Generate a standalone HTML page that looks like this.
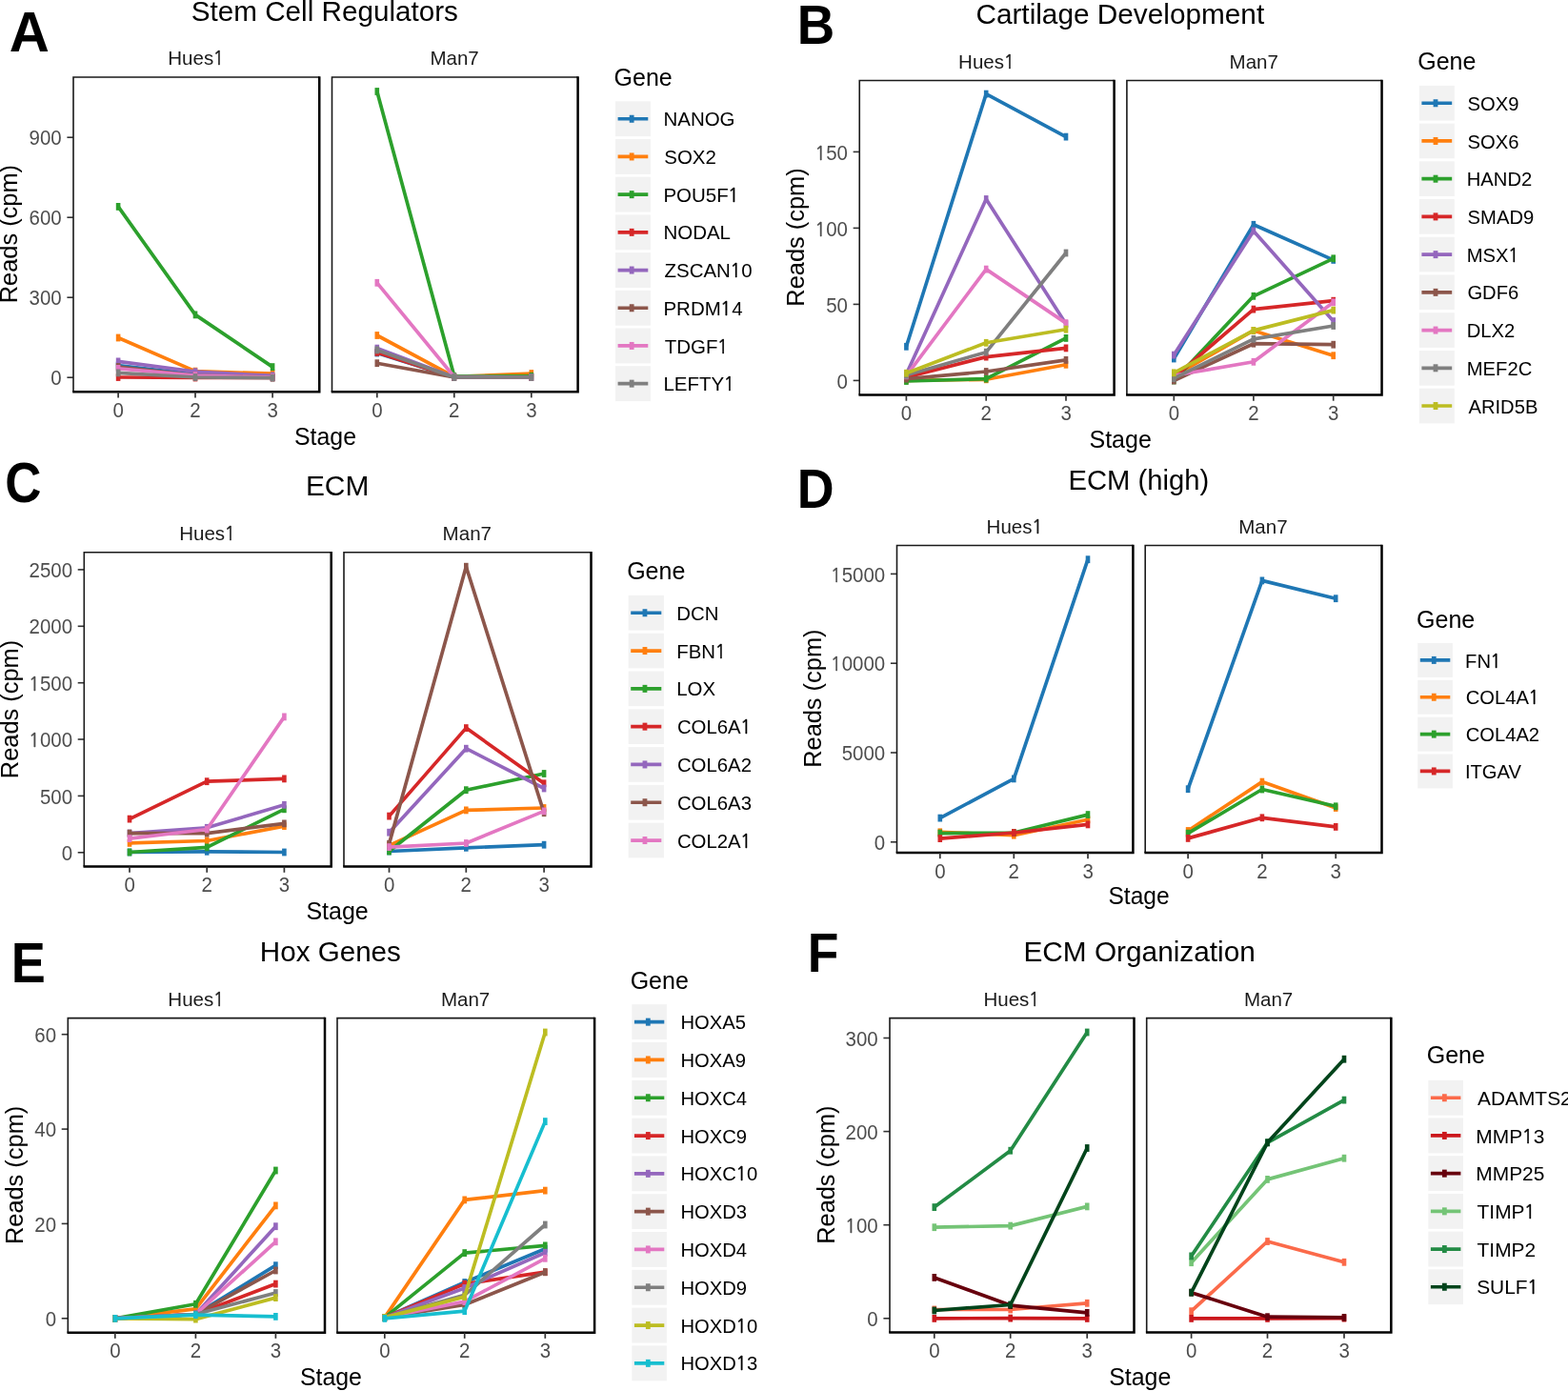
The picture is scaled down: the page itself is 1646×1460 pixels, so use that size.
<!DOCTYPE html>
<html><head><meta charset="utf-8"><title>Figure</title><style>html,body{margin:0;padding:0;background:#fff;overflow:hidden}svg{display:block}</style></head><body>
<svg width="1646" height="1460" viewBox="0 0 1646 1460" font-family="'Liberation Sans', Arial, Helvetica, sans-serif">
<rect width="1646" height="1460" fill="#fff"/>
<g id="pA">
<text x="9.79" y="53.8" font-size="58.3" fill="#000" font-weight="bold">A</text>
<text x="200.71" y="21.7" font-size="29.66" fill="#000">Stem Cell Regulators</text>
<text transform="translate(176.28,68.1) scale(0.9831,1)" font-size="20.9" fill="#1A1A1A">Hues<tspan font-family="NanumGothic" font-size="19.59" dx="-0.64" stroke="#1A1A1A" stroke-width="0.38">1</tspan></text>
<text transform="translate(451.41,68.1) scale(0.9830,1)" font-size="20.9" fill="#1A1A1A">Man7</text>
<line x1="70.4" y1="396.2" x2="77" y2="396.2" stroke="#333" stroke-width="1.6"/>
<text transform="translate(53.37,404.3) scale(0.9600,1)" font-size="21.3" fill="#4D4D4D">0</text>
<line x1="70.4" y1="312.2" x2="77" y2="312.2" stroke="#333" stroke-width="1.6"/>
<text transform="translate(30.62,320.3) scale(0.9600,1)" font-size="21.3" fill="#4D4D4D">300</text>
<line x1="70.4" y1="228.2" x2="77" y2="228.2" stroke="#333" stroke-width="1.6"/>
<text transform="translate(30.62,236.3) scale(0.9600,1)" font-size="21.3" fill="#4D4D4D">600</text>
<line x1="70.4" y1="144.2" x2="77" y2="144.2" stroke="#333" stroke-width="1.6"/>
<text transform="translate(30.62,152.3) scale(0.9600,1)" font-size="21.3" fill="#4D4D4D">900</text>
<path d="M77,411.2V81H335.25" fill="none" stroke="#1A1A1A" stroke-width="1.6"/>
<path d="M76.2,411.2H335.25V80.2" fill="none" stroke="#000" stroke-width="2.5"/>
<line x1="124.1" y1="411.2" x2="124.1" y2="417.4" stroke="#333" stroke-width="1.7"/>
<text transform="translate(118.48,437.7) scale(0.9600,1)" font-size="21.3" fill="#4D4D4D">0</text>
<line x1="205" y1="411.2" x2="205" y2="417.4" stroke="#333" stroke-width="1.7"/>
<text transform="translate(199.27,437.7) scale(0.9600,1)" font-size="21.3" fill="#4D4D4D">2</text>
<line x1="286.1" y1="411.2" x2="286.1" y2="417.4" stroke="#333" stroke-width="1.7"/>
<text transform="translate(280.48,437.7) scale(0.9600,1)" font-size="21.3" fill="#4D4D4D">3</text>
<path d="M348.5,411.2V81H606.6" fill="none" stroke="#1A1A1A" stroke-width="1.6"/>
<path d="M347.7,411.2H606.6V80.2" fill="none" stroke="#000" stroke-width="2.5"/>
<line x1="395.8" y1="411.2" x2="395.8" y2="417.4" stroke="#333" stroke-width="1.7"/>
<text transform="translate(390.18,437.7) scale(0.9600,1)" font-size="21.3" fill="#4D4D4D">0</text>
<line x1="476.8" y1="411.2" x2="476.8" y2="417.4" stroke="#333" stroke-width="1.7"/>
<text transform="translate(471.07,437.7) scale(0.9600,1)" font-size="21.3" fill="#4D4D4D">2</text>
<line x1="557.8" y1="411.2" x2="557.8" y2="417.4" stroke="#333" stroke-width="1.7"/>
<text transform="translate(552.18,437.7) scale(0.9600,1)" font-size="21.3" fill="#4D4D4D">3</text>
<polyline points="124.1,383.6 205,393 286.1,396" fill="none" stroke="#1F77B4" stroke-width="3.7" stroke-linejoin="round"/>
<rect x="121.8" y="379.7" width="4.6" height="7.8" fill="#1F77B4"/>
<rect x="202.7" y="389.1" width="4.6" height="7.8" fill="#1F77B4"/>
<rect x="283.8" y="392.1" width="4.6" height="7.8" fill="#1F77B4"/>
<polyline points="124.1,354.5 205,389.6 286.1,392.2" fill="none" stroke="#FF7F0E" stroke-width="3.7" stroke-linejoin="round"/>
<rect x="121.8" y="350.6" width="4.6" height="7.8" fill="#FF7F0E"/>
<rect x="202.7" y="385.7" width="4.6" height="7.8" fill="#FF7F0E"/>
<rect x="283.8" y="388.3" width="4.6" height="7.8" fill="#FF7F0E"/>
<polyline points="124.1,216.9 205,330.4 286.1,385.1" fill="none" stroke="#2CA02C" stroke-width="3.7" stroke-linejoin="round"/>
<rect x="121.8" y="213" width="4.6" height="7.8" fill="#2CA02C"/>
<rect x="202.7" y="326.5" width="4.6" height="7.8" fill="#2CA02C"/>
<rect x="283.8" y="381.2" width="4.6" height="7.8" fill="#2CA02C"/>
<polyline points="124.1,396 205,396.5 286.1,396.5" fill="none" stroke="#D62728" stroke-width="3.7" stroke-linejoin="round"/>
<rect x="121.8" y="392.1" width="4.6" height="7.8" fill="#D62728"/>
<rect x="202.7" y="392.6" width="4.6" height="7.8" fill="#D62728"/>
<rect x="283.8" y="392.6" width="4.6" height="7.8" fill="#D62728"/>
<polyline points="124.1,379.4 205,390.2 286.1,394.4" fill="none" stroke="#9467BD" stroke-width="3.7" stroke-linejoin="round"/>
<rect x="121.8" y="375.5" width="4.6" height="7.8" fill="#9467BD"/>
<rect x="202.7" y="386.3" width="4.6" height="7.8" fill="#9467BD"/>
<rect x="283.8" y="390.5" width="4.6" height="7.8" fill="#9467BD"/>
<polyline points="124.1,385 205,394 286.1,396" fill="none" stroke="#8C564B" stroke-width="3.7" stroke-linejoin="round"/>
<rect x="121.8" y="381.1" width="4.6" height="7.8" fill="#8C564B"/>
<rect x="202.7" y="390.1" width="4.6" height="7.8" fill="#8C564B"/>
<rect x="283.8" y="392.1" width="4.6" height="7.8" fill="#8C564B"/>
<polyline points="124.1,386.9 205,394 286.1,396" fill="none" stroke="#E377C2" stroke-width="3.7" stroke-linejoin="round"/>
<rect x="121.8" y="383" width="4.6" height="7.8" fill="#E377C2"/>
<rect x="202.7" y="390.1" width="4.6" height="7.8" fill="#E377C2"/>
<rect x="283.8" y="392.1" width="4.6" height="7.8" fill="#E377C2"/>
<polyline points="124.1,391.4 205,396 286.1,396.7" fill="none" stroke="#7F7F7F" stroke-width="3.7" stroke-linejoin="round"/>
<rect x="121.8" y="387.5" width="4.6" height="7.8" fill="#7F7F7F"/>
<rect x="202.7" y="392.1" width="4.6" height="7.8" fill="#7F7F7F"/>
<rect x="283.8" y="392.8" width="4.6" height="7.8" fill="#7F7F7F"/>
<polyline points="395.8,370.5 476.8,396 557.8,396" fill="none" stroke="#1F77B4" stroke-width="3.7" stroke-linejoin="round"/>
<rect x="393.5" y="366.6" width="4.6" height="7.8" fill="#1F77B4"/>
<rect x="474.5" y="392.1" width="4.6" height="7.8" fill="#1F77B4"/>
<rect x="555.5" y="392.1" width="4.6" height="7.8" fill="#1F77B4"/>
<polyline points="395.8,352 476.8,395.4 557.8,392" fill="none" stroke="#FF7F0E" stroke-width="3.7" stroke-linejoin="round"/>
<rect x="393.5" y="348.1" width="4.6" height="7.8" fill="#FF7F0E"/>
<rect x="474.5" y="391.5" width="4.6" height="7.8" fill="#FF7F0E"/>
<rect x="555.5" y="388.1" width="4.6" height="7.8" fill="#FF7F0E"/>
<polyline points="395.8,96 476.8,394.8 557.8,394.8" fill="none" stroke="#2CA02C" stroke-width="3.7" stroke-linejoin="round"/>
<rect x="393.5" y="92.1" width="4.6" height="7.8" fill="#2CA02C"/>
<rect x="474.5" y="390.9" width="4.6" height="7.8" fill="#2CA02C"/>
<rect x="555.5" y="390.9" width="4.6" height="7.8" fill="#2CA02C"/>
<polyline points="395.8,369.9 476.8,396 557.8,396" fill="none" stroke="#D62728" stroke-width="3.7" stroke-linejoin="round"/>
<rect x="393.5" y="366" width="4.6" height="7.8" fill="#D62728"/>
<rect x="474.5" y="392.1" width="4.6" height="7.8" fill="#D62728"/>
<rect x="555.5" y="392.1" width="4.6" height="7.8" fill="#D62728"/>
<polyline points="395.8,365.6 476.8,396 557.8,396" fill="none" stroke="#9467BD" stroke-width="3.7" stroke-linejoin="round"/>
<rect x="393.5" y="361.7" width="4.6" height="7.8" fill="#9467BD"/>
<rect x="474.5" y="392.1" width="4.6" height="7.8" fill="#9467BD"/>
<rect x="555.5" y="392.1" width="4.6" height="7.8" fill="#9467BD"/>
<polyline points="395.8,381.2 476.8,396 557.8,396" fill="none" stroke="#8C564B" stroke-width="3.7" stroke-linejoin="round"/>
<rect x="393.5" y="377.3" width="4.6" height="7.8" fill="#8C564B"/>
<rect x="474.5" y="392.1" width="4.6" height="7.8" fill="#8C564B"/>
<rect x="555.5" y="392.1" width="4.6" height="7.8" fill="#8C564B"/>
<polyline points="395.8,296.8 476.8,395.5 557.8,396" fill="none" stroke="#E377C2" stroke-width="3.7" stroke-linejoin="round"/>
<rect x="393.5" y="292.9" width="4.6" height="7.8" fill="#E377C2"/>
<rect x="474.5" y="391.6" width="4.6" height="7.8" fill="#E377C2"/>
<rect x="555.5" y="392.1" width="4.6" height="7.8" fill="#E377C2"/>
<polyline points="395.8,367.4 476.8,396 557.8,396" fill="none" stroke="#7F7F7F" stroke-width="3.7" stroke-linejoin="round"/>
<rect x="393.5" y="363.5" width="4.6" height="7.8" fill="#7F7F7F"/>
<rect x="474.5" y="392.1" width="4.6" height="7.8" fill="#7F7F7F"/>
<rect x="555.5" y="392.1" width="4.6" height="7.8" fill="#7F7F7F"/>
<text transform="translate(18.4,318.28) rotate(-90)" font-size="25.4" fill="#000">Reads (cpm)</text>
<text transform="translate(309.01,466.5) scale(0.9792,1)" font-size="25.4" fill="#000">Stage</text>
<text x="644.55" y="89.5" font-size="25" fill="#000">Gene</text>
<rect x="646" y="106.3" width="36.9" height="36.9" fill="#F2F2F2"/>
<line x1="648.6" y1="124.75" x2="680.3" y2="124.75" stroke="#1F77B4" stroke-width="3.7"/>
<rect x="660.75" y="120.75" width="4.8" height="8" fill="#1F77B4"/>
<text transform="translate(696.46,132.35) scale(0.9850,1)" font-size="20.8" fill="#000">NANOG</text>
<rect x="646" y="146" width="36.9" height="36.9" fill="#F2F2F2"/>
<line x1="648.6" y1="164.45" x2="680.3" y2="164.45" stroke="#FF7F0E" stroke-width="3.7"/>
<rect x="660.75" y="160.45" width="4.8" height="8" fill="#FF7F0E"/>
<text transform="translate(697.28,172.05) scale(0.9850,1)" font-size="20.8" fill="#000">SOX2</text>
<rect x="646" y="185.7" width="36.9" height="36.9" fill="#F2F2F2"/>
<line x1="648.6" y1="204.15" x2="680.3" y2="204.15" stroke="#2CA02C" stroke-width="3.7"/>
<rect x="660.75" y="200.15" width="4.8" height="8" fill="#2CA02C"/>
<text transform="translate(696.46,211.75) scale(0.9850,1)" font-size="20.8" fill="#000">POU5F<tspan font-family="NanumGothic" font-size="19.5" dx="-0.64" stroke="#000" stroke-width="0.37">1</tspan></text>
<rect x="646" y="225.4" width="36.9" height="36.9" fill="#F2F2F2"/>
<line x1="648.6" y1="243.85" x2="680.3" y2="243.85" stroke="#D62728" stroke-width="3.7"/>
<rect x="660.75" y="239.85" width="4.8" height="8" fill="#D62728"/>
<text transform="translate(696.46,251.45) scale(0.9850,1)" font-size="20.8" fill="#000">NODAL</text>
<rect x="646" y="265.1" width="36.9" height="36.9" fill="#F2F2F2"/>
<line x1="648.6" y1="283.55" x2="680.3" y2="283.55" stroke="#9467BD" stroke-width="3.7"/>
<rect x="660.75" y="279.55" width="4.8" height="8" fill="#9467BD"/>
<text transform="translate(697.49,291.15) scale(0.9850,1)" font-size="20.8" fill="#000">ZSCAN<tspan font-family="NanumGothic" font-size="19.5" dx="-0.64" stroke="#000" stroke-width="0.37">1</tspan><tspan dx="0.39">0</tspan></text>
<rect x="646" y="304.8" width="36.9" height="36.9" fill="#F2F2F2"/>
<line x1="648.6" y1="323.25" x2="680.3" y2="323.25" stroke="#8C564B" stroke-width="3.7"/>
<rect x="660.75" y="319.25" width="4.8" height="8" fill="#8C564B"/>
<text transform="translate(696.46,330.85) scale(0.9850,1)" font-size="20.8" fill="#000">PRDM<tspan font-family="NanumGothic" font-size="19.5" dx="-0.64" stroke="#000" stroke-width="0.37">1</tspan><tspan dx="0.39">4</tspan></text>
<rect x="646" y="344.5" width="36.9" height="36.9" fill="#F2F2F2"/>
<line x1="648.6" y1="362.95" x2="680.3" y2="362.95" stroke="#E377C2" stroke-width="3.7"/>
<rect x="660.75" y="358.95" width="4.8" height="8" fill="#E377C2"/>
<text transform="translate(697.69,370.55) scale(0.9850,1)" font-size="20.8" fill="#000">TDGF<tspan font-family="NanumGothic" font-size="19.5" dx="-0.64" stroke="#000" stroke-width="0.37">1</tspan></text>
<rect x="646" y="384.2" width="36.9" height="36.9" fill="#F2F2F2"/>
<line x1="648.6" y1="402.65" x2="680.3" y2="402.65" stroke="#7F7F7F" stroke-width="3.7"/>
<rect x="660.75" y="398.65" width="4.8" height="8" fill="#7F7F7F"/>
<text transform="translate(696.46,410.25) scale(0.9850,1)" font-size="20.8" fill="#000">LEFTY<tspan font-family="NanumGothic" font-size="19.5" dx="-0.64" stroke="#000" stroke-width="0.37">1</tspan></text>
</g>
<g id="pB">
<text transform="translate(836.82,45.8) scale(0.9379,1)" font-size="58.3" fill="#000" font-weight="bold">B</text>
<text x="1024.41" y="24.8" font-size="29.78" fill="#000">Cartilage Development</text>
<text transform="translate(1006.08,71.6) scale(0.9831,1)" font-size="20.9" fill="#1A1A1A">Hues<tspan font-family="NanumGothic" font-size="19.59" dx="-0.64" stroke="#1A1A1A" stroke-width="0.38">1</tspan></text>
<text transform="translate(1290.58,71.6) scale(0.9830,1)" font-size="20.9" fill="#1A1A1A">Man7</text>
<line x1="895.65" y1="399.4" x2="902.25" y2="399.4" stroke="#333" stroke-width="1.6"/>
<text transform="translate(878.62,407.5) scale(0.9600,1)" font-size="21.3" fill="#4D4D4D">0</text>
<line x1="895.65" y1="319.4" x2="902.25" y2="319.4" stroke="#333" stroke-width="1.6"/>
<text transform="translate(867.24,327.5) scale(0.9600,1)" font-size="21.3" fill="#4D4D4D">50</text>
<line x1="895.65" y1="239.4" x2="902.25" y2="239.4" stroke="#333" stroke-width="1.6"/>
<text transform="translate(855.87,247.5) scale(0.9600,1)" font-size="21.3" fill="#4D4D4D"><tspan font-family="NanumGothic" font-size="19.97" dx="-0.66" stroke="#4D4D4D" stroke-width="0.38">1</tspan><tspan dx="0.4">00</tspan></text>
<line x1="895.65" y1="159.4" x2="902.25" y2="159.4" stroke="#333" stroke-width="1.6"/>
<text transform="translate(855.87,167.5) scale(0.9600,1)" font-size="21.3" fill="#4D4D4D"><tspan font-family="NanumGothic" font-size="19.97" dx="-0.66" stroke="#4D4D4D" stroke-width="0.38">1</tspan><tspan dx="0.4">50</tspan></text>
<path d="M902.25,414.5V84.5H1169.6" fill="none" stroke="#1A1A1A" stroke-width="1.6"/>
<path d="M901.45,414.5H1169.6V83.7" fill="none" stroke="#000" stroke-width="2.5"/>
<line x1="951.4" y1="414.5" x2="951.4" y2="420.7" stroke="#333" stroke-width="1.7"/>
<text transform="translate(945.78,441) scale(0.9600,1)" font-size="21.3" fill="#4D4D4D">0</text>
<line x1="1035.2" y1="414.5" x2="1035.2" y2="420.7" stroke="#333" stroke-width="1.7"/>
<text transform="translate(1029.47,441) scale(0.9600,1)" font-size="21.3" fill="#4D4D4D">2</text>
<line x1="1119" y1="414.5" x2="1119" y2="420.7" stroke="#333" stroke-width="1.7"/>
<text transform="translate(1113.38,441) scale(0.9600,1)" font-size="21.3" fill="#4D4D4D">3</text>
<path d="M1182.9,414.5V84.5H1450.55" fill="none" stroke="#1A1A1A" stroke-width="1.6"/>
<path d="M1182.1,414.5H1450.55V83.7" fill="none" stroke="#000" stroke-width="2.5"/>
<line x1="1232.3" y1="414.5" x2="1232.3" y2="420.7" stroke="#333" stroke-width="1.7"/>
<text transform="translate(1226.68,441) scale(0.9600,1)" font-size="21.3" fill="#4D4D4D">0</text>
<line x1="1315.9" y1="414.5" x2="1315.9" y2="420.7" stroke="#333" stroke-width="1.7"/>
<text transform="translate(1310.17,441) scale(0.9600,1)" font-size="21.3" fill="#4D4D4D">2</text>
<line x1="1399.7" y1="414.5" x2="1399.7" y2="420.7" stroke="#333" stroke-width="1.7"/>
<text transform="translate(1394.08,441) scale(0.9600,1)" font-size="21.3" fill="#4D4D4D">3</text>
<polyline points="951.4,363.8 1035.2,98.6 1119,143.6" fill="none" stroke="#1F77B4" stroke-width="3.7" stroke-linejoin="round"/>
<rect x="949.1" y="359.9" width="4.6" height="7.8" fill="#1F77B4"/>
<rect x="1032.9" y="94.7" width="4.6" height="7.8" fill="#1F77B4"/>
<rect x="1116.7" y="139.7" width="4.6" height="7.8" fill="#1F77B4"/>
<polyline points="951.4,399.3 1035.2,398.3 1119,382.8" fill="none" stroke="#FF7F0E" stroke-width="3.7" stroke-linejoin="round"/>
<rect x="949.1" y="395.4" width="4.6" height="7.8" fill="#FF7F0E"/>
<rect x="1032.9" y="394.4" width="4.6" height="7.8" fill="#FF7F0E"/>
<rect x="1116.7" y="378.9" width="4.6" height="7.8" fill="#FF7F0E"/>
<polyline points="951.4,400 1035.2,397.6 1119,354.9" fill="none" stroke="#2CA02C" stroke-width="3.7" stroke-linejoin="round"/>
<rect x="949.1" y="396.1" width="4.6" height="7.8" fill="#2CA02C"/>
<rect x="1032.9" y="393.7" width="4.6" height="7.8" fill="#2CA02C"/>
<rect x="1116.7" y="351" width="4.6" height="7.8" fill="#2CA02C"/>
<polyline points="951.4,396 1035.2,374.6 1119,365.4" fill="none" stroke="#D62728" stroke-width="3.7" stroke-linejoin="round"/>
<rect x="949.1" y="392.1" width="4.6" height="7.8" fill="#D62728"/>
<rect x="1032.9" y="370.7" width="4.6" height="7.8" fill="#D62728"/>
<rect x="1116.7" y="361.5" width="4.6" height="7.8" fill="#D62728"/>
<polyline points="951.4,392.7 1035.2,209 1119,340.1" fill="none" stroke="#9467BD" stroke-width="3.7" stroke-linejoin="round"/>
<rect x="949.1" y="388.8" width="4.6" height="7.8" fill="#9467BD"/>
<rect x="1032.9" y="205.1" width="4.6" height="7.8" fill="#9467BD"/>
<rect x="1116.7" y="336.2" width="4.6" height="7.8" fill="#9467BD"/>
<polyline points="951.4,397.6 1035.2,390 1119,377.9" fill="none" stroke="#8C564B" stroke-width="3.7" stroke-linejoin="round"/>
<rect x="949.1" y="393.7" width="4.6" height="7.8" fill="#8C564B"/>
<rect x="1032.9" y="386.1" width="4.6" height="7.8" fill="#8C564B"/>
<rect x="1116.7" y="374" width="4.6" height="7.8" fill="#8C564B"/>
<polyline points="951.4,394.3 1035.2,282.6 1119,339.1" fill="none" stroke="#E377C2" stroke-width="3.7" stroke-linejoin="round"/>
<rect x="949.1" y="390.4" width="4.6" height="7.8" fill="#E377C2"/>
<rect x="1032.9" y="278.7" width="4.6" height="7.8" fill="#E377C2"/>
<rect x="1116.7" y="335.2" width="4.6" height="7.8" fill="#E377C2"/>
<polyline points="951.4,393.7 1035.2,369.7 1119,265.5" fill="none" stroke="#7F7F7F" stroke-width="3.7" stroke-linejoin="round"/>
<rect x="949.1" y="389.8" width="4.6" height="7.8" fill="#7F7F7F"/>
<rect x="1032.9" y="365.8" width="4.6" height="7.8" fill="#7F7F7F"/>
<rect x="1116.7" y="261.6" width="4.6" height="7.8" fill="#7F7F7F"/>
<polyline points="951.4,391.7 1035.2,359.8 1119,345.7" fill="none" stroke="#BCBD22" stroke-width="3.7" stroke-linejoin="round"/>
<rect x="949.1" y="387.8" width="4.6" height="7.8" fill="#BCBD22"/>
<rect x="1032.9" y="355.9" width="4.6" height="7.8" fill="#BCBD22"/>
<rect x="1116.7" y="341.8" width="4.6" height="7.8" fill="#BCBD22"/>
<polyline points="1232.3,376.5 1315.9,235.8 1399.7,272.9" fill="none" stroke="#1F77B4" stroke-width="3.7" stroke-linejoin="round"/>
<rect x="1230" y="372.6" width="4.6" height="7.8" fill="#1F77B4"/>
<rect x="1313.6" y="231.9" width="4.6" height="7.8" fill="#1F77B4"/>
<rect x="1397.4" y="269" width="4.6" height="7.8" fill="#1F77B4"/>
<polyline points="1232.3,394.6 1315.9,346.9 1399.7,373.2" fill="none" stroke="#FF7F0E" stroke-width="3.7" stroke-linejoin="round"/>
<rect x="1230" y="390.7" width="4.6" height="7.8" fill="#FF7F0E"/>
<rect x="1313.6" y="343" width="4.6" height="7.8" fill="#FF7F0E"/>
<rect x="1397.4" y="369.3" width="4.6" height="7.8" fill="#FF7F0E"/>
<polyline points="1232.3,399.5 1315.9,310.8 1399.7,271.3" fill="none" stroke="#2CA02C" stroke-width="3.7" stroke-linejoin="round"/>
<rect x="1230" y="395.6" width="4.6" height="7.8" fill="#2CA02C"/>
<rect x="1313.6" y="306.9" width="4.6" height="7.8" fill="#2CA02C"/>
<rect x="1397.4" y="267.4" width="4.6" height="7.8" fill="#2CA02C"/>
<polyline points="1232.3,396.3 1315.9,324.6 1399.7,315.7" fill="none" stroke="#D62728" stroke-width="3.7" stroke-linejoin="round"/>
<rect x="1230" y="392.4" width="4.6" height="7.8" fill="#D62728"/>
<rect x="1313.6" y="320.7" width="4.6" height="7.8" fill="#D62728"/>
<rect x="1397.4" y="311.8" width="4.6" height="7.8" fill="#D62728"/>
<polyline points="1232.3,372.6 1315.9,242.4 1399.7,337.1" fill="none" stroke="#9467BD" stroke-width="3.7" stroke-linejoin="round"/>
<rect x="1230" y="368.7" width="4.6" height="7.8" fill="#9467BD"/>
<rect x="1313.6" y="238.5" width="4.6" height="7.8" fill="#9467BD"/>
<rect x="1397.4" y="333.2" width="4.6" height="7.8" fill="#9467BD"/>
<polyline points="1232.3,399.5 1315.9,360.7 1399.7,361.7" fill="none" stroke="#8C564B" stroke-width="3.7" stroke-linejoin="round"/>
<rect x="1230" y="395.6" width="4.6" height="7.8" fill="#8C564B"/>
<rect x="1313.6" y="356.8" width="4.6" height="7.8" fill="#8C564B"/>
<rect x="1397.4" y="357.8" width="4.6" height="7.8" fill="#8C564B"/>
<polyline points="1232.3,394 1315.9,379.8 1399.7,317.3" fill="none" stroke="#E377C2" stroke-width="3.7" stroke-linejoin="round"/>
<rect x="1230" y="390.1" width="4.6" height="7.8" fill="#E377C2"/>
<rect x="1313.6" y="375.9" width="4.6" height="7.8" fill="#E377C2"/>
<rect x="1397.4" y="313.4" width="4.6" height="7.8" fill="#E377C2"/>
<polyline points="1232.3,397.2 1315.9,355.8 1399.7,342" fill="none" stroke="#7F7F7F" stroke-width="3.7" stroke-linejoin="round"/>
<rect x="1230" y="393.3" width="4.6" height="7.8" fill="#7F7F7F"/>
<rect x="1313.6" y="351.9" width="4.6" height="7.8" fill="#7F7F7F"/>
<rect x="1397.4" y="338.1" width="4.6" height="7.8" fill="#7F7F7F"/>
<polyline points="1232.3,391.3 1315.9,346.9 1399.7,325.6" fill="none" stroke="#BCBD22" stroke-width="3.7" stroke-linejoin="round"/>
<rect x="1230" y="387.4" width="4.6" height="7.8" fill="#BCBD22"/>
<rect x="1313.6" y="343" width="4.6" height="7.8" fill="#BCBD22"/>
<rect x="1397.4" y="321.7" width="4.6" height="7.8" fill="#BCBD22"/>
<text transform="translate(843.7,321.68) rotate(-90)" font-size="25.4" fill="#000">Reads (cpm)</text>
<text transform="translate(1143.5,469.8) scale(0.9838,1)" font-size="25.4" fill="#000">Stage</text>
<text x="1488.25" y="72.9" font-size="25" fill="#000">Gene</text>
<rect x="1489.8" y="89.9" width="37" height="36.7" fill="#F2F2F2"/>
<line x1="1492.4" y1="108.25" x2="1524.2" y2="108.25" stroke="#1F77B4" stroke-width="3.7"/>
<rect x="1504.6" y="104.25" width="4.8" height="8" fill="#1F77B4"/>
<text transform="translate(1540.59,115.85) scale(0.9720,1)" font-size="20.8" fill="#000">SOX9</text>
<rect x="1489.8" y="129.62" width="37" height="36.7" fill="#F2F2F2"/>
<line x1="1492.4" y1="147.97" x2="1524.2" y2="147.97" stroke="#FF7F0E" stroke-width="3.7"/>
<rect x="1504.6" y="143.97" width="4.8" height="8" fill="#FF7F0E"/>
<text transform="translate(1540.59,155.57) scale(0.9720,1)" font-size="20.8" fill="#000">SOX6</text>
<rect x="1489.8" y="169.34" width="37" height="36.7" fill="#F2F2F2"/>
<line x1="1492.4" y1="187.69" x2="1524.2" y2="187.69" stroke="#2CA02C" stroke-width="3.7"/>
<rect x="1504.6" y="183.69" width="4.8" height="8" fill="#2CA02C"/>
<text transform="translate(1539.78,195.29) scale(0.9720,1)" font-size="20.8" fill="#000">HAND2</text>
<rect x="1489.8" y="209.06" width="37" height="36.7" fill="#F2F2F2"/>
<line x1="1492.4" y1="227.41" x2="1524.2" y2="227.41" stroke="#D62728" stroke-width="3.7"/>
<rect x="1504.6" y="223.41" width="4.8" height="8" fill="#D62728"/>
<text transform="translate(1540.59,235.01) scale(0.9720,1)" font-size="20.8" fill="#000">SMAD9</text>
<rect x="1489.8" y="248.78" width="37" height="36.7" fill="#F2F2F2"/>
<line x1="1492.4" y1="267.13" x2="1524.2" y2="267.13" stroke="#9467BD" stroke-width="3.7"/>
<rect x="1504.6" y="263.13" width="4.8" height="8" fill="#9467BD"/>
<text transform="translate(1539.78,274.73) scale(0.9720,1)" font-size="20.8" fill="#000">MSX<tspan font-family="NanumGothic" font-size="19.5" dx="-0.64" stroke="#000" stroke-width="0.37">1</tspan></text>
<rect x="1489.8" y="288.5" width="37" height="36.7" fill="#F2F2F2"/>
<line x1="1492.4" y1="306.85" x2="1524.2" y2="306.85" stroke="#8C564B" stroke-width="3.7"/>
<rect x="1504.6" y="302.85" width="4.8" height="8" fill="#8C564B"/>
<text transform="translate(1540.39,314.45) scale(0.9720,1)" font-size="20.8" fill="#000">GDF6</text>
<rect x="1489.8" y="328.22" width="37" height="36.7" fill="#F2F2F2"/>
<line x1="1492.4" y1="346.57" x2="1524.2" y2="346.57" stroke="#E377C2" stroke-width="3.7"/>
<rect x="1504.6" y="342.57" width="4.8" height="8" fill="#E377C2"/>
<text transform="translate(1539.78,354.17) scale(0.9720,1)" font-size="20.8" fill="#000">DLX2</text>
<rect x="1489.8" y="367.94" width="37" height="36.7" fill="#F2F2F2"/>
<line x1="1492.4" y1="386.29" x2="1524.2" y2="386.29" stroke="#7F7F7F" stroke-width="3.7"/>
<rect x="1504.6" y="382.29" width="4.8" height="8" fill="#7F7F7F"/>
<text transform="translate(1539.78,393.89) scale(0.9720,1)" font-size="20.8" fill="#000">MEF2C</text>
<rect x="1489.8" y="407.66" width="37" height="36.7" fill="#F2F2F2"/>
<line x1="1492.4" y1="426.01" x2="1524.2" y2="426.01" stroke="#BCBD22" stroke-width="3.7"/>
<rect x="1504.6" y="422.01" width="4.8" height="8" fill="#BCBD22"/>
<text transform="translate(1541.4,433.61) scale(0.9720,1)" font-size="20.8" fill="#000">ARID5B</text>
</g>
<g id="pC">
<text transform="translate(5.28,527.1) scale(0.9070,1)" font-size="58.3" fill="#000" font-weight="bold">C</text>
<text x="320.91" y="519.9" font-size="29.92" fill="#000">ECM</text>
<text transform="translate(188.16,566.8) scale(0.9831,1)" font-size="20.9" fill="#1A1A1A">Hues<tspan font-family="NanumGothic" font-size="19.59" dx="-0.64" stroke="#1A1A1A" stroke-width="0.38">1</tspan></text>
<text transform="translate(464.61,566.8) scale(0.9830,1)" font-size="20.9" fill="#1A1A1A">Man7</text>
<line x1="81.7" y1="894.8" x2="88.3" y2="894.8" stroke="#333" stroke-width="1.6"/>
<text transform="translate(64.67,902.9) scale(0.9600,1)" font-size="21.3" fill="#4D4D4D">0</text>
<line x1="81.7" y1="835.4" x2="88.3" y2="835.4" stroke="#333" stroke-width="1.6"/>
<text transform="translate(41.92,843.5) scale(0.9600,1)" font-size="21.3" fill="#4D4D4D">500</text>
<line x1="81.7" y1="776" x2="88.3" y2="776" stroke="#333" stroke-width="1.6"/>
<text transform="translate(30.55,784.1) scale(0.9600,1)" font-size="21.3" fill="#4D4D4D"><tspan font-family="NanumGothic" font-size="19.97" dx="-0.66" stroke="#4D4D4D" stroke-width="0.38">1</tspan><tspan dx="0.4">000</tspan></text>
<line x1="81.7" y1="716.7" x2="88.3" y2="716.7" stroke="#333" stroke-width="1.6"/>
<text transform="translate(30.55,724.8) scale(0.9600,1)" font-size="21.3" fill="#4D4D4D"><tspan font-family="NanumGothic" font-size="19.97" dx="-0.66" stroke="#4D4D4D" stroke-width="0.38">1</tspan><tspan dx="0.4">500</tspan></text>
<line x1="81.7" y1="657.3" x2="88.3" y2="657.3" stroke="#333" stroke-width="1.6"/>
<text transform="translate(30.55,665.4) scale(0.9600,1)" font-size="21.3" fill="#4D4D4D">2000</text>
<line x1="81.7" y1="597.9" x2="88.3" y2="597.9" stroke="#333" stroke-width="1.6"/>
<text transform="translate(30.55,606) scale(0.9600,1)" font-size="21.3" fill="#4D4D4D">2500</text>
<path d="M88.3,909.6V579.7H347.7" fill="none" stroke="#1A1A1A" stroke-width="1.6"/>
<path d="M87.5,909.6H347.7V578.9" fill="none" stroke="#000" stroke-width="2.5"/>
<line x1="136" y1="909.6" x2="136" y2="915.8" stroke="#333" stroke-width="1.7"/>
<text transform="translate(130.38,936.1) scale(0.9600,1)" font-size="21.3" fill="#4D4D4D">0</text>
<line x1="217.2" y1="909.6" x2="217.2" y2="915.8" stroke="#333" stroke-width="1.7"/>
<text transform="translate(211.47,936.1) scale(0.9600,1)" font-size="21.3" fill="#4D4D4D">2</text>
<line x1="298.4" y1="909.6" x2="298.4" y2="915.8" stroke="#333" stroke-width="1.7"/>
<text transform="translate(292.78,936.1) scale(0.9600,1)" font-size="21.3" fill="#4D4D4D">3</text>
<path d="M361,909.6V579.7H620.5" fill="none" stroke="#1A1A1A" stroke-width="1.6"/>
<path d="M360.2,909.6H620.5V578.9" fill="none" stroke="#000" stroke-width="2.5"/>
<line x1="408.5" y1="909.6" x2="408.5" y2="915.8" stroke="#333" stroke-width="1.7"/>
<text transform="translate(402.88,936.1) scale(0.9600,1)" font-size="21.3" fill="#4D4D4D">0</text>
<line x1="489.3" y1="909.6" x2="489.3" y2="915.8" stroke="#333" stroke-width="1.7"/>
<text transform="translate(483.57,936.1) scale(0.9600,1)" font-size="21.3" fill="#4D4D4D">2</text>
<line x1="571.1" y1="909.6" x2="571.1" y2="915.8" stroke="#333" stroke-width="1.7"/>
<text transform="translate(565.48,936.1) scale(0.9600,1)" font-size="21.3" fill="#4D4D4D">3</text>
<polyline points="136,894.5 217.2,893.8 298.4,894.5" fill="none" stroke="#1F77B4" stroke-width="3.7" stroke-linejoin="round"/>
<rect x="133.7" y="890.6" width="4.6" height="7.8" fill="#1F77B4"/>
<rect x="214.9" y="889.9" width="4.6" height="7.8" fill="#1F77B4"/>
<rect x="296.1" y="890.6" width="4.6" height="7.8" fill="#1F77B4"/>
<polyline points="136,884.9 217.2,882.5 298.4,867.1" fill="none" stroke="#FF7F0E" stroke-width="3.7" stroke-linejoin="round"/>
<rect x="133.7" y="881" width="4.6" height="7.8" fill="#FF7F0E"/>
<rect x="214.9" y="878.6" width="4.6" height="7.8" fill="#FF7F0E"/>
<rect x="296.1" y="863.2" width="4.6" height="7.8" fill="#FF7F0E"/>
<polyline points="136,894.5 217.2,889.4 298.4,849.3" fill="none" stroke="#2CA02C" stroke-width="3.7" stroke-linejoin="round"/>
<rect x="133.7" y="890.6" width="4.6" height="7.8" fill="#2CA02C"/>
<rect x="214.9" y="885.5" width="4.6" height="7.8" fill="#2CA02C"/>
<rect x="296.1" y="845.4" width="4.6" height="7.8" fill="#2CA02C"/>
<polyline points="136,859.6 217.2,820.2 298.4,817.4" fill="none" stroke="#D62728" stroke-width="3.7" stroke-linejoin="round"/>
<rect x="133.7" y="855.7" width="4.6" height="7.8" fill="#D62728"/>
<rect x="214.9" y="816.3" width="4.6" height="7.8" fill="#D62728"/>
<rect x="296.1" y="813.5" width="4.6" height="7.8" fill="#D62728"/>
<polyline points="136,874.6 217.2,868.8 298.4,844.8" fill="none" stroke="#9467BD" stroke-width="3.7" stroke-linejoin="round"/>
<rect x="133.7" y="870.7" width="4.6" height="7.8" fill="#9467BD"/>
<rect x="214.9" y="864.9" width="4.6" height="7.8" fill="#9467BD"/>
<rect x="296.1" y="840.9" width="4.6" height="7.8" fill="#9467BD"/>
<polyline points="136,874.6 217.2,874.6 298.4,864.4" fill="none" stroke="#8C564B" stroke-width="3.7" stroke-linejoin="round"/>
<rect x="133.7" y="870.7" width="4.6" height="7.8" fill="#8C564B"/>
<rect x="214.9" y="870.7" width="4.6" height="7.8" fill="#8C564B"/>
<rect x="296.1" y="860.5" width="4.6" height="7.8" fill="#8C564B"/>
<polyline points="136,880.1 217.2,870.5 298.4,752.4" fill="none" stroke="#E377C2" stroke-width="3.7" stroke-linejoin="round"/>
<rect x="133.7" y="876.2" width="4.6" height="7.8" fill="#E377C2"/>
<rect x="214.9" y="866.6" width="4.6" height="7.8" fill="#E377C2"/>
<rect x="296.1" y="748.5" width="4.6" height="7.8" fill="#E377C2"/>
<polyline points="408.5,893.5 489.3,889.8 571.1,886.7" fill="none" stroke="#1F77B4" stroke-width="3.7" stroke-linejoin="round"/>
<rect x="406.2" y="889.6" width="4.6" height="7.8" fill="#1F77B4"/>
<rect x="487" y="885.9" width="4.6" height="7.8" fill="#1F77B4"/>
<rect x="568.8" y="882.8" width="4.6" height="7.8" fill="#1F77B4"/>
<polyline points="408.5,887.4 489.3,850.4 571.1,848" fill="none" stroke="#FF7F0E" stroke-width="3.7" stroke-linejoin="round"/>
<rect x="406.2" y="883.5" width="4.6" height="7.8" fill="#FF7F0E"/>
<rect x="487" y="846.5" width="4.6" height="7.8" fill="#FF7F0E"/>
<rect x="568.8" y="844.1" width="4.6" height="7.8" fill="#FF7F0E"/>
<polyline points="408.5,893.5 489.3,829.2 571.1,812" fill="none" stroke="#2CA02C" stroke-width="3.7" stroke-linejoin="round"/>
<rect x="406.2" y="889.6" width="4.6" height="7.8" fill="#2CA02C"/>
<rect x="487" y="825.3" width="4.6" height="7.8" fill="#2CA02C"/>
<rect x="568.8" y="808.1" width="4.6" height="7.8" fill="#2CA02C"/>
<polyline points="408.5,856.6 489.3,764.1 571.1,822.3" fill="none" stroke="#D62728" stroke-width="3.7" stroke-linejoin="round"/>
<rect x="406.2" y="852.7" width="4.6" height="7.8" fill="#D62728"/>
<rect x="487" y="760.2" width="4.6" height="7.8" fill="#D62728"/>
<rect x="568.8" y="818.4" width="4.6" height="7.8" fill="#D62728"/>
<polyline points="408.5,873.7 489.3,785.7 571.1,827.5" fill="none" stroke="#9467BD" stroke-width="3.7" stroke-linejoin="round"/>
<rect x="406.2" y="869.8" width="4.6" height="7.8" fill="#9467BD"/>
<rect x="487" y="781.8" width="4.6" height="7.8" fill="#9467BD"/>
<rect x="568.8" y="823.6" width="4.6" height="7.8" fill="#9467BD"/>
<polyline points="408.5,885.7 489.3,594.7 571.1,853.2" fill="none" stroke="#8C564B" stroke-width="3.7" stroke-linejoin="round"/>
<rect x="406.2" y="881.8" width="4.6" height="7.8" fill="#8C564B"/>
<rect x="487" y="590.8" width="4.6" height="7.8" fill="#8C564B"/>
<rect x="568.8" y="849.3" width="4.6" height="7.8" fill="#8C564B"/>
<polyline points="408.5,889.1 489.3,885 571.1,851.4" fill="none" stroke="#E377C2" stroke-width="3.7" stroke-linejoin="round"/>
<rect x="406.2" y="885.2" width="4.6" height="7.8" fill="#E377C2"/>
<rect x="487" y="881.1" width="4.6" height="7.8" fill="#E377C2"/>
<rect x="568.8" y="847.5" width="4.6" height="7.8" fill="#E377C2"/>
<text transform="translate(18.65,817.18) rotate(-90)" font-size="25.4" fill="#000">Reads (cpm)</text>
<text transform="translate(321.4,965) scale(0.9854,1)" font-size="25.4" fill="#000">Stage</text>
<text x="658.15" y="607.9" font-size="25" fill="#000">Gene</text>
<rect x="659.6" y="624.9" width="37.3" height="36.7" fill="#F2F2F2"/>
<line x1="662.2" y1="643.25" x2="694.3" y2="643.25" stroke="#1F77B4" stroke-width="3.7"/>
<rect x="674.55" y="639.25" width="4.8" height="8" fill="#1F77B4"/>
<text transform="translate(710.27,650.85) scale(0.9800,1)" font-size="20.8" fill="#000">DCN</text>
<rect x="659.6" y="664.7" width="37.3" height="36.7" fill="#F2F2F2"/>
<line x1="662.2" y1="683.05" x2="694.3" y2="683.05" stroke="#FF7F0E" stroke-width="3.7"/>
<rect x="674.55" y="679.05" width="4.8" height="8" fill="#FF7F0E"/>
<text transform="translate(710.27,690.65) scale(0.9800,1)" font-size="20.8" fill="#000">FBN<tspan font-family="NanumGothic" font-size="19.5" dx="-0.64" stroke="#000" stroke-width="0.37">1</tspan></text>
<rect x="659.6" y="704.5" width="37.3" height="36.7" fill="#F2F2F2"/>
<line x1="662.2" y1="722.85" x2="694.3" y2="722.85" stroke="#2CA02C" stroke-width="3.7"/>
<rect x="674.55" y="718.85" width="4.8" height="8" fill="#2CA02C"/>
<text transform="translate(710.27,730.45) scale(0.9800,1)" font-size="20.8" fill="#000">LOX</text>
<rect x="659.6" y="744.3" width="37.3" height="36.7" fill="#F2F2F2"/>
<line x1="662.2" y1="762.65" x2="694.3" y2="762.65" stroke="#D62728" stroke-width="3.7"/>
<rect x="674.55" y="758.65" width="4.8" height="8" fill="#D62728"/>
<text transform="translate(710.88,770.25) scale(0.9800,1)" font-size="20.8" fill="#000">COL6A<tspan font-family="NanumGothic" font-size="19.5" dx="-0.64" stroke="#000" stroke-width="0.37">1</tspan></text>
<rect x="659.6" y="784.1" width="37.3" height="36.7" fill="#F2F2F2"/>
<line x1="662.2" y1="802.45" x2="694.3" y2="802.45" stroke="#9467BD" stroke-width="3.7"/>
<rect x="674.55" y="798.45" width="4.8" height="8" fill="#9467BD"/>
<text transform="translate(710.88,810.05) scale(0.9800,1)" font-size="20.8" fill="#000">COL6A2</text>
<rect x="659.6" y="823.9" width="37.3" height="36.7" fill="#F2F2F2"/>
<line x1="662.2" y1="842.25" x2="694.3" y2="842.25" stroke="#8C564B" stroke-width="3.7"/>
<rect x="674.55" y="838.25" width="4.8" height="8" fill="#8C564B"/>
<text transform="translate(710.88,849.85) scale(0.9800,1)" font-size="20.8" fill="#000">COL6A3</text>
<rect x="659.6" y="863.7" width="37.3" height="36.7" fill="#F2F2F2"/>
<line x1="662.2" y1="882.05" x2="694.3" y2="882.05" stroke="#E377C2" stroke-width="3.7"/>
<rect x="674.55" y="878.05" width="4.8" height="8" fill="#E377C2"/>
<text transform="translate(710.88,889.65) scale(0.9800,1)" font-size="20.8" fill="#000">COL2A<tspan font-family="NanumGothic" font-size="19.5" dx="-0.64" stroke="#000" stroke-width="0.37">1</tspan></text>
</g>
<g id="pD">
<text transform="translate(836.87,532.5) scale(0.9230,1)" font-size="58.3" fill="#000" font-weight="bold">D</text>
<text x="1121.57" y="514" font-size="29.19" fill="#000">ECM (high)</text>
<text transform="translate(1035.61,559.6) scale(0.9831,1)" font-size="20.9" fill="#1A1A1A">Hues<tspan font-family="NanumGothic" font-size="19.59" dx="-0.64" stroke="#1A1A1A" stroke-width="0.38">1</tspan></text>
<text transform="translate(1300.21,559.6) scale(0.9830,1)" font-size="20.9" fill="#1A1A1A">Man7</text>
<line x1="934.9" y1="883.8" x2="941.5" y2="883.8" stroke="#333" stroke-width="1.6"/>
<text transform="translate(917.87,891.9) scale(0.9600,1)" font-size="21.3" fill="#4D4D4D">0</text>
<line x1="934.9" y1="790" x2="941.5" y2="790" stroke="#333" stroke-width="1.6"/>
<text transform="translate(883.75,798.1) scale(0.9600,1)" font-size="21.3" fill="#4D4D4D">5000</text>
<line x1="934.9" y1="696.2" x2="941.5" y2="696.2" stroke="#333" stroke-width="1.6"/>
<text transform="translate(872.38,704.3) scale(0.9600,1)" font-size="21.3" fill="#4D4D4D"><tspan font-family="NanumGothic" font-size="19.97" dx="-0.66" stroke="#4D4D4D" stroke-width="0.38">1</tspan><tspan dx="0.4">0000</tspan></text>
<line x1="934.9" y1="602.4" x2="941.5" y2="602.4" stroke="#333" stroke-width="1.6"/>
<text transform="translate(872.38,610.5) scale(0.9600,1)" font-size="21.3" fill="#4D4D4D"><tspan font-family="NanumGothic" font-size="19.97" dx="-0.66" stroke="#4D4D4D" stroke-width="0.38">1</tspan><tspan dx="0.4">5000</tspan></text>
<path d="M941.5,895V572.5H1189.4" fill="none" stroke="#1A1A1A" stroke-width="1.6"/>
<path d="M940.7,895H1189.4V571.7" fill="none" stroke="#000" stroke-width="2.5"/>
<line x1="986.8" y1="895" x2="986.8" y2="901.2" stroke="#333" stroke-width="1.7"/>
<text transform="translate(981.18,921.5) scale(0.9600,1)" font-size="21.3" fill="#4D4D4D">0</text>
<line x1="1064.3" y1="895" x2="1064.3" y2="901.2" stroke="#333" stroke-width="1.7"/>
<text transform="translate(1058.57,921.5) scale(0.9600,1)" font-size="21.3" fill="#4D4D4D">2</text>
<line x1="1142" y1="895" x2="1142" y2="901.2" stroke="#333" stroke-width="1.7"/>
<text transform="translate(1136.38,921.5) scale(0.9600,1)" font-size="21.3" fill="#4D4D4D">3</text>
<path d="M1202.2,895V572.5H1450.5" fill="none" stroke="#1A1A1A" stroke-width="1.6"/>
<path d="M1201.4,895H1450.5V571.7" fill="none" stroke="#000" stroke-width="2.5"/>
<line x1="1247.1" y1="895" x2="1247.1" y2="901.2" stroke="#333" stroke-width="1.7"/>
<text transform="translate(1241.48,921.5) scale(0.9600,1)" font-size="21.3" fill="#4D4D4D">0</text>
<line x1="1324.9" y1="895" x2="1324.9" y2="901.2" stroke="#333" stroke-width="1.7"/>
<text transform="translate(1319.17,921.5) scale(0.9600,1)" font-size="21.3" fill="#4D4D4D">2</text>
<line x1="1402.2" y1="895" x2="1402.2" y2="901.2" stroke="#333" stroke-width="1.7"/>
<text transform="translate(1396.58,921.5) scale(0.9600,1)" font-size="21.3" fill="#4D4D4D">3</text>
<polyline points="986.8,858.6 1064.3,817.4 1142,587.2" fill="none" stroke="#1F77B4" stroke-width="3.7" stroke-linejoin="round"/>
<rect x="984.5" y="854.7" width="4.6" height="7.8" fill="#1F77B4"/>
<rect x="1062" y="813.5" width="4.6" height="7.8" fill="#1F77B4"/>
<rect x="1139.7" y="583.3" width="4.6" height="7.8" fill="#1F77B4"/>
<polyline points="986.8,873.3 1064.3,876.7 1142,860.3" fill="none" stroke="#FF7F0E" stroke-width="3.7" stroke-linejoin="round"/>
<rect x="984.5" y="869.4" width="4.6" height="7.8" fill="#FF7F0E"/>
<rect x="1062" y="872.8" width="4.6" height="7.8" fill="#FF7F0E"/>
<rect x="1139.7" y="856.4" width="4.6" height="7.8" fill="#FF7F0E"/>
<polyline points="986.8,874.6 1064.3,874 1142,855.1" fill="none" stroke="#2CA02C" stroke-width="3.7" stroke-linejoin="round"/>
<rect x="984.5" y="870.7" width="4.6" height="7.8" fill="#2CA02C"/>
<rect x="1062" y="870.1" width="4.6" height="7.8" fill="#2CA02C"/>
<rect x="1139.7" y="851.2" width="4.6" height="7.8" fill="#2CA02C"/>
<polyline points="986.8,880.1 1064.3,874 1142,865.4" fill="none" stroke="#D62728" stroke-width="3.7" stroke-linejoin="round"/>
<rect x="984.5" y="876.2" width="4.6" height="7.8" fill="#D62728"/>
<rect x="1062" y="870.1" width="4.6" height="7.8" fill="#D62728"/>
<rect x="1139.7" y="861.5" width="4.6" height="7.8" fill="#D62728"/>
<polyline points="1247.1,828.2 1324.9,609.4 1402.2,628.2" fill="none" stroke="#1F77B4" stroke-width="3.7" stroke-linejoin="round"/>
<rect x="1244.8" y="824.3" width="4.6" height="7.8" fill="#1F77B4"/>
<rect x="1322.6" y="605.5" width="4.6" height="7.8" fill="#1F77B4"/>
<rect x="1399.9" y="624.3" width="4.6" height="7.8" fill="#1F77B4"/>
<polyline points="1247.1,872 1324.9,820.6 1402.2,848" fill="none" stroke="#FF7F0E" stroke-width="3.7" stroke-linejoin="round"/>
<rect x="1244.8" y="868.1" width="4.6" height="7.8" fill="#FF7F0E"/>
<rect x="1322.6" y="816.7" width="4.6" height="7.8" fill="#FF7F0E"/>
<rect x="1399.9" y="844.1" width="4.6" height="7.8" fill="#FF7F0E"/>
<polyline points="1247.1,874.7 1324.9,828.5 1402.2,846.3" fill="none" stroke="#2CA02C" stroke-width="3.7" stroke-linejoin="round"/>
<rect x="1244.8" y="870.8" width="4.6" height="7.8" fill="#2CA02C"/>
<rect x="1322.6" y="824.6" width="4.6" height="7.8" fill="#2CA02C"/>
<rect x="1399.9" y="842.4" width="4.6" height="7.8" fill="#2CA02C"/>
<polyline points="1247.1,879.9 1324.9,858.3 1402.2,867.9" fill="none" stroke="#D62728" stroke-width="3.7" stroke-linejoin="round"/>
<rect x="1244.8" y="876" width="4.6" height="7.8" fill="#D62728"/>
<rect x="1322.6" y="854.4" width="4.6" height="7.8" fill="#D62728"/>
<rect x="1399.9" y="864" width="4.6" height="7.8" fill="#D62728"/>
<text transform="translate(861.7,805.83) rotate(-90)" font-size="25.4" fill="#000">Reads (cpm)</text>
<text transform="translate(1163.52,948.8) scale(0.9652,1)" font-size="25.4" fill="#000">Stage</text>
<text x="1487.05" y="658.5" font-size="25" fill="#000">Gene</text>
<rect x="1488.2" y="674.9" width="36.7" height="36" fill="#F2F2F2"/>
<line x1="1490.8" y1="692.9" x2="1522.3" y2="692.9" stroke="#1F77B4" stroke-width="3.7"/>
<rect x="1502.85" y="688.9" width="4.8" height="8" fill="#1F77B4"/>
<text transform="translate(1538.09,700.5) scale(0.9700,1)" font-size="20.8" fill="#000">FN<tspan font-family="NanumGothic" font-size="19.5" dx="-0.64" stroke="#000" stroke-width="0.37">1</tspan></text>
<rect x="1488.2" y="713.75" width="36.7" height="36" fill="#F2F2F2"/>
<line x1="1490.8" y1="731.75" x2="1522.3" y2="731.75" stroke="#FF7F0E" stroke-width="3.7"/>
<rect x="1502.85" y="727.75" width="4.8" height="8" fill="#FF7F0E"/>
<text transform="translate(1538.69,739.35) scale(0.9700,1)" font-size="20.8" fill="#000">COL4A<tspan font-family="NanumGothic" font-size="19.5" dx="-0.64" stroke="#000" stroke-width="0.37">1</tspan></text>
<rect x="1488.2" y="752.6" width="36.7" height="36" fill="#F2F2F2"/>
<line x1="1490.8" y1="770.6" x2="1522.3" y2="770.6" stroke="#2CA02C" stroke-width="3.7"/>
<rect x="1502.85" y="766.6" width="4.8" height="8" fill="#2CA02C"/>
<text transform="translate(1538.69,778.2) scale(0.9700,1)" font-size="20.8" fill="#000">COL4A2</text>
<rect x="1488.2" y="791.45" width="36.7" height="36" fill="#F2F2F2"/>
<line x1="1490.8" y1="809.45" x2="1522.3" y2="809.45" stroke="#D62728" stroke-width="3.7"/>
<rect x="1502.85" y="805.45" width="4.8" height="8" fill="#D62728"/>
<text transform="translate(1537.88,817.05) scale(0.9700,1)" font-size="20.8" fill="#000">ITGAV</text>
</g>
<g id="pE">
<text transform="translate(11.82,1031.2) scale(0.9277,1)" font-size="58.3" fill="#000" font-weight="bold">E</text>
<text x="272.83" y="1009" font-size="29.6" fill="#000">Hox Genes</text>
<text transform="translate(176.31,1055.7) scale(0.9831,1)" font-size="20.9" fill="#1A1A1A">Hues<tspan font-family="NanumGothic" font-size="19.59" dx="-0.64" stroke="#1A1A1A" stroke-width="0.38">1</tspan></text>
<text transform="translate(462.91,1055.7) scale(0.9830,1)" font-size="20.9" fill="#1A1A1A">Man7</text>
<line x1="64.7" y1="1383.8" x2="71.3" y2="1383.8" stroke="#333" stroke-width="1.6"/>
<text transform="translate(47.67,1391.9) scale(0.9600,1)" font-size="21.3" fill="#4D4D4D">0</text>
<line x1="64.7" y1="1284.4" x2="71.3" y2="1284.4" stroke="#333" stroke-width="1.6"/>
<text transform="translate(36.29,1292.5) scale(0.9600,1)" font-size="21.3" fill="#4D4D4D">20</text>
<line x1="64.7" y1="1185.1" x2="71.3" y2="1185.1" stroke="#333" stroke-width="1.6"/>
<text transform="translate(36.29,1193.2) scale(0.9600,1)" font-size="21.3" fill="#4D4D4D">40</text>
<line x1="64.7" y1="1085.7" x2="71.3" y2="1085.7" stroke="#333" stroke-width="1.6"/>
<text transform="translate(36.29,1093.8) scale(0.9600,1)" font-size="21.3" fill="#4D4D4D">60</text>
<path d="M71.3,1398.65V1068.6H341" fill="none" stroke="#1A1A1A" stroke-width="1.6"/>
<path d="M70.5,1398.65H341V1067.8" fill="none" stroke="#000" stroke-width="2.5"/>
<line x1="120.8" y1="1398.65" x2="120.8" y2="1404.85" stroke="#333" stroke-width="1.7"/>
<text transform="translate(115.18,1425.15) scale(0.9600,1)" font-size="21.3" fill="#4D4D4D">0</text>
<line x1="205.4" y1="1398.65" x2="205.4" y2="1404.85" stroke="#333" stroke-width="1.7"/>
<text transform="translate(199.67,1425.15) scale(0.9600,1)" font-size="21.3" fill="#4D4D4D">2</text>
<line x1="289.4" y1="1398.65" x2="289.4" y2="1404.85" stroke="#333" stroke-width="1.7"/>
<text transform="translate(283.78,1425.15) scale(0.9600,1)" font-size="21.3" fill="#4D4D4D">3</text>
<path d="M354,1398.65V1068.6H624.1" fill="none" stroke="#1A1A1A" stroke-width="1.6"/>
<path d="M353.2,1398.65H624.1V1067.8" fill="none" stroke="#000" stroke-width="2.5"/>
<line x1="403.8" y1="1398.65" x2="403.8" y2="1404.85" stroke="#333" stroke-width="1.7"/>
<text transform="translate(398.18,1425.15) scale(0.9600,1)" font-size="21.3" fill="#4D4D4D">0</text>
<line x1="487.7" y1="1398.65" x2="487.7" y2="1404.85" stroke="#333" stroke-width="1.7"/>
<text transform="translate(481.97,1425.15) scale(0.9600,1)" font-size="21.3" fill="#4D4D4D">2</text>
<line x1="572.3" y1="1398.65" x2="572.3" y2="1404.85" stroke="#333" stroke-width="1.7"/>
<text transform="translate(566.68,1425.15) scale(0.9600,1)" font-size="21.3" fill="#4D4D4D">3</text>
<polyline points="120.8,1383.9 205.4,1379.5 289.4,1328.2" fill="none" stroke="#1F77B4" stroke-width="3.7" stroke-linejoin="round"/>
<rect x="118.5" y="1380" width="4.6" height="7.8" fill="#1F77B4"/>
<rect x="203.1" y="1375.6" width="4.6" height="7.8" fill="#1F77B4"/>
<rect x="287.1" y="1324.3" width="4.6" height="7.8" fill="#1F77B4"/>
<polyline points="120.8,1383.9 205.4,1373.8 289.4,1265.4" fill="none" stroke="#FF7F0E" stroke-width="3.7" stroke-linejoin="round"/>
<rect x="118.5" y="1380" width="4.6" height="7.8" fill="#FF7F0E"/>
<rect x="203.1" y="1369.9" width="4.6" height="7.8" fill="#FF7F0E"/>
<rect x="287.1" y="1261.5" width="4.6" height="7.8" fill="#FF7F0E"/>
<polyline points="120.8,1383.9 205.4,1368.8 289.4,1228.5" fill="none" stroke="#2CA02C" stroke-width="3.7" stroke-linejoin="round"/>
<rect x="118.5" y="1380" width="4.6" height="7.8" fill="#2CA02C"/>
<rect x="203.1" y="1364.9" width="4.6" height="7.8" fill="#2CA02C"/>
<rect x="287.1" y="1224.6" width="4.6" height="7.8" fill="#2CA02C"/>
<polyline points="120.8,1383.9 205.4,1379.5 289.4,1347.6" fill="none" stroke="#D62728" stroke-width="3.7" stroke-linejoin="round"/>
<rect x="118.5" y="1380" width="4.6" height="7.8" fill="#D62728"/>
<rect x="203.1" y="1375.6" width="4.6" height="7.8" fill="#D62728"/>
<rect x="287.1" y="1343.7" width="4.6" height="7.8" fill="#D62728"/>
<polyline points="120.8,1383.9 205.4,1379.5 289.4,1287.2" fill="none" stroke="#9467BD" stroke-width="3.7" stroke-linejoin="round"/>
<rect x="118.5" y="1380" width="4.6" height="7.8" fill="#9467BD"/>
<rect x="203.1" y="1375.6" width="4.6" height="7.8" fill="#9467BD"/>
<rect x="287.1" y="1283.3" width="4.6" height="7.8" fill="#9467BD"/>
<polyline points="120.8,1383.9 205.4,1379.5 289.4,1333.5" fill="none" stroke="#8C564B" stroke-width="3.7" stroke-linejoin="round"/>
<rect x="118.5" y="1380" width="4.6" height="7.8" fill="#8C564B"/>
<rect x="203.1" y="1375.6" width="4.6" height="7.8" fill="#8C564B"/>
<rect x="287.1" y="1329.6" width="4.6" height="7.8" fill="#8C564B"/>
<polyline points="120.8,1383.9 205.4,1379.5 289.4,1303.3" fill="none" stroke="#E377C2" stroke-width="3.7" stroke-linejoin="round"/>
<rect x="118.5" y="1380" width="4.6" height="7.8" fill="#E377C2"/>
<rect x="203.1" y="1375.6" width="4.6" height="7.8" fill="#E377C2"/>
<rect x="287.1" y="1299.4" width="4.6" height="7.8" fill="#E377C2"/>
<polyline points="120.8,1383.9 205.4,1379.5 289.4,1357" fill="none" stroke="#7F7F7F" stroke-width="3.7" stroke-linejoin="round"/>
<rect x="118.5" y="1380" width="4.6" height="7.8" fill="#7F7F7F"/>
<rect x="203.1" y="1375.6" width="4.6" height="7.8" fill="#7F7F7F"/>
<rect x="287.1" y="1353.1" width="4.6" height="7.8" fill="#7F7F7F"/>
<polyline points="120.8,1383.9 205.4,1384.6 289.4,1362.1" fill="none" stroke="#BCBD22" stroke-width="3.7" stroke-linejoin="round"/>
<rect x="118.5" y="1380" width="4.6" height="7.8" fill="#BCBD22"/>
<rect x="203.1" y="1380.7" width="4.6" height="7.8" fill="#BCBD22"/>
<rect x="287.1" y="1358.2" width="4.6" height="7.8" fill="#BCBD22"/>
<polyline points="120.8,1383.9 205.4,1380.2 289.4,1381.9" fill="none" stroke="#17BECF" stroke-width="3.7" stroke-linejoin="round"/>
<rect x="118.5" y="1380" width="4.6" height="7.8" fill="#17BECF"/>
<rect x="203.1" y="1376.3" width="4.6" height="7.8" fill="#17BECF"/>
<rect x="287.1" y="1378" width="4.6" height="7.8" fill="#17BECF"/>
<polyline points="403.8,1382.9 487.7,1346 572.3,1310.7" fill="none" stroke="#1F77B4" stroke-width="3.7" stroke-linejoin="round"/>
<rect x="401.5" y="1379" width="4.6" height="7.8" fill="#1F77B4"/>
<rect x="485.4" y="1342.1" width="4.6" height="7.8" fill="#1F77B4"/>
<rect x="570" y="1306.8" width="4.6" height="7.8" fill="#1F77B4"/>
<polyline points="403.8,1382.9 487.7,1259.4 572.3,1249.6" fill="none" stroke="#FF7F0E" stroke-width="3.7" stroke-linejoin="round"/>
<rect x="401.5" y="1379" width="4.6" height="7.8" fill="#FF7F0E"/>
<rect x="485.4" y="1255.5" width="4.6" height="7.8" fill="#FF7F0E"/>
<rect x="570" y="1245.7" width="4.6" height="7.8" fill="#FF7F0E"/>
<polyline points="403.8,1382.9 487.7,1315.1 572.3,1307.4" fill="none" stroke="#2CA02C" stroke-width="3.7" stroke-linejoin="round"/>
<rect x="401.5" y="1379" width="4.6" height="7.8" fill="#2CA02C"/>
<rect x="485.4" y="1311.2" width="4.6" height="7.8" fill="#2CA02C"/>
<rect x="570" y="1303.5" width="4.6" height="7.8" fill="#2CA02C"/>
<polyline points="403.8,1382.9 487.7,1347.6 572.3,1335.2" fill="none" stroke="#D62728" stroke-width="3.7" stroke-linejoin="round"/>
<rect x="401.5" y="1379" width="4.6" height="7.8" fill="#D62728"/>
<rect x="485.4" y="1343.7" width="4.6" height="7.8" fill="#D62728"/>
<rect x="570" y="1331.3" width="4.6" height="7.8" fill="#D62728"/>
<polyline points="403.8,1382.9 487.7,1352 572.3,1314.7" fill="none" stroke="#9467BD" stroke-width="3.7" stroke-linejoin="round"/>
<rect x="401.5" y="1379" width="4.6" height="7.8" fill="#9467BD"/>
<rect x="485.4" y="1348.1" width="4.6" height="7.8" fill="#9467BD"/>
<rect x="570" y="1310.8" width="4.6" height="7.8" fill="#9467BD"/>
<polyline points="403.8,1382.9 487.7,1369.5 572.3,1335.2" fill="none" stroke="#8C564B" stroke-width="3.7" stroke-linejoin="round"/>
<rect x="401.5" y="1379" width="4.6" height="7.8" fill="#8C564B"/>
<rect x="485.4" y="1365.6" width="4.6" height="7.8" fill="#8C564B"/>
<rect x="570" y="1331.3" width="4.6" height="7.8" fill="#8C564B"/>
<polyline points="403.8,1382.9 487.7,1366.1 572.3,1320.8" fill="none" stroke="#E377C2" stroke-width="3.7" stroke-linejoin="round"/>
<rect x="401.5" y="1379" width="4.6" height="7.8" fill="#E377C2"/>
<rect x="485.4" y="1362.2" width="4.6" height="7.8" fill="#E377C2"/>
<rect x="570" y="1316.9" width="4.6" height="7.8" fill="#E377C2"/>
<polyline points="403.8,1382.9 487.7,1359.4 572.3,1285.5" fill="none" stroke="#7F7F7F" stroke-width="3.7" stroke-linejoin="round"/>
<rect x="401.5" y="1379" width="4.6" height="7.8" fill="#7F7F7F"/>
<rect x="485.4" y="1355.5" width="4.6" height="7.8" fill="#7F7F7F"/>
<rect x="570" y="1281.6" width="4.6" height="7.8" fill="#7F7F7F"/>
<polyline points="403.8,1382.9 487.7,1361.1 572.3,1083.5" fill="none" stroke="#BCBD22" stroke-width="3.7" stroke-linejoin="round"/>
<rect x="401.5" y="1379" width="4.6" height="7.8" fill="#BCBD22"/>
<rect x="485.4" y="1357.2" width="4.6" height="7.8" fill="#BCBD22"/>
<rect x="570" y="1079.6" width="4.6" height="7.8" fill="#BCBD22"/>
<polyline points="403.8,1383.9 487.7,1376.2 572.3,1177.1" fill="none" stroke="#17BECF" stroke-width="3.7" stroke-linejoin="round"/>
<rect x="401.5" y="1380" width="4.6" height="7.8" fill="#17BECF"/>
<rect x="485.4" y="1372.3" width="4.6" height="7.8" fill="#17BECF"/>
<rect x="570" y="1173.2" width="4.6" height="7.8" fill="#17BECF"/>
<text transform="translate(23.7,1306.08) rotate(-90)" font-size="25.4" fill="#000">Reads (cpm)</text>
<text transform="translate(314.9,1453.8) scale(0.9807,1)" font-size="25.4" fill="#000">Stage</text>
<text x="661.65" y="1037.5" font-size="25" fill="#000">Gene</text>
<rect x="663.3" y="1054.2" width="36.6" height="36.9" fill="#F2F2F2"/>
<line x1="665.9" y1="1072.65" x2="697.3" y2="1072.65" stroke="#1F77B4" stroke-width="3.7"/>
<rect x="677.9" y="1068.65" width="4.8" height="8" fill="#1F77B4"/>
<text transform="translate(714.38,1080.25) scale(0.9720,1)" font-size="20.8" fill="#000">HOXA5</text>
<rect x="663.3" y="1094" width="36.6" height="36.9" fill="#F2F2F2"/>
<line x1="665.9" y1="1112.45" x2="697.3" y2="1112.45" stroke="#FF7F0E" stroke-width="3.7"/>
<rect x="677.9" y="1108.45" width="4.8" height="8" fill="#FF7F0E"/>
<text transform="translate(714.38,1120.05) scale(0.9720,1)" font-size="20.8" fill="#000">HOXA9</text>
<rect x="663.3" y="1133.8" width="36.6" height="36.9" fill="#F2F2F2"/>
<line x1="665.9" y1="1152.25" x2="697.3" y2="1152.25" stroke="#2CA02C" stroke-width="3.7"/>
<rect x="677.9" y="1148.25" width="4.8" height="8" fill="#2CA02C"/>
<text transform="translate(714.38,1159.85) scale(0.9720,1)" font-size="20.8" fill="#000">HOXC4</text>
<rect x="663.3" y="1173.6" width="36.6" height="36.9" fill="#F2F2F2"/>
<line x1="665.9" y1="1192.05" x2="697.3" y2="1192.05" stroke="#D62728" stroke-width="3.7"/>
<rect x="677.9" y="1188.05" width="4.8" height="8" fill="#D62728"/>
<text transform="translate(714.38,1199.65) scale(0.9720,1)" font-size="20.8" fill="#000">HOXC9</text>
<rect x="663.3" y="1213.4" width="36.6" height="36.9" fill="#F2F2F2"/>
<line x1="665.9" y1="1231.85" x2="697.3" y2="1231.85" stroke="#9467BD" stroke-width="3.7"/>
<rect x="677.9" y="1227.85" width="4.8" height="8" fill="#9467BD"/>
<text transform="translate(714.38,1239.45) scale(0.9720,1)" font-size="20.8" fill="#000">HOXC<tspan font-family="NanumGothic" font-size="19.5" dx="-0.64" stroke="#000" stroke-width="0.37">1</tspan><tspan dx="0.39">0</tspan></text>
<rect x="663.3" y="1253.2" width="36.6" height="36.9" fill="#F2F2F2"/>
<line x1="665.9" y1="1271.65" x2="697.3" y2="1271.65" stroke="#8C564B" stroke-width="3.7"/>
<rect x="677.9" y="1267.65" width="4.8" height="8" fill="#8C564B"/>
<text transform="translate(714.38,1279.25) scale(0.9720,1)" font-size="20.8" fill="#000">HOXD3</text>
<rect x="663.3" y="1293" width="36.6" height="36.9" fill="#F2F2F2"/>
<line x1="665.9" y1="1311.45" x2="697.3" y2="1311.45" stroke="#E377C2" stroke-width="3.7"/>
<rect x="677.9" y="1307.45" width="4.8" height="8" fill="#E377C2"/>
<text transform="translate(714.38,1319.05) scale(0.9720,1)" font-size="20.8" fill="#000">HOXD4</text>
<rect x="663.3" y="1332.8" width="36.6" height="36.9" fill="#F2F2F2"/>
<line x1="665.9" y1="1351.25" x2="697.3" y2="1351.25" stroke="#7F7F7F" stroke-width="3.7"/>
<rect x="677.9" y="1347.25" width="4.8" height="8" fill="#7F7F7F"/>
<text transform="translate(714.38,1358.85) scale(0.9720,1)" font-size="20.8" fill="#000">HOXD9</text>
<rect x="663.3" y="1372.6" width="36.6" height="36.9" fill="#F2F2F2"/>
<line x1="665.9" y1="1391.05" x2="697.3" y2="1391.05" stroke="#BCBD22" stroke-width="3.7"/>
<rect x="677.9" y="1387.05" width="4.8" height="8" fill="#BCBD22"/>
<text transform="translate(714.38,1398.65) scale(0.9720,1)" font-size="20.8" fill="#000">HOXD<tspan font-family="NanumGothic" font-size="19.5" dx="-0.64" stroke="#000" stroke-width="0.37">1</tspan><tspan dx="0.39">0</tspan></text>
<rect x="663.3" y="1412.4" width="36.6" height="36.9" fill="#F2F2F2"/>
<line x1="665.9" y1="1430.85" x2="697.3" y2="1430.85" stroke="#17BECF" stroke-width="3.7"/>
<rect x="677.9" y="1426.85" width="4.8" height="8" fill="#17BECF"/>
<text transform="translate(714.38,1438.45) scale(0.9720,1)" font-size="20.8" fill="#000">HOXD<tspan font-family="NanumGothic" font-size="19.5" dx="-0.64" stroke="#000" stroke-width="0.37">1</tspan><tspan dx="0.39">3</tspan></text>
</g>
<g id="pF">
<text transform="translate(847.79,1019.9) scale(0.9170,1)" font-size="58.3" fill="#000" font-weight="bold">F</text>
<text x="1074.42" y="1009.2" font-size="29.8" fill="#000">ECM Organization</text>
<text transform="translate(1032.41,1055.7) scale(0.9831,1)" font-size="20.9" fill="#1A1A1A">Hues<tspan font-family="NanumGothic" font-size="19.59" dx="-0.64" stroke="#1A1A1A" stroke-width="0.38">1</tspan></text>
<text transform="translate(1305.88,1055.7) scale(0.9830,1)" font-size="20.9" fill="#1A1A1A">Man7</text>
<line x1="927.4" y1="1383.8" x2="934" y2="1383.8" stroke="#333" stroke-width="1.6"/>
<text transform="translate(910.37,1391.9) scale(0.9600,1)" font-size="21.3" fill="#4D4D4D">0</text>
<line x1="927.4" y1="1285.7" x2="934" y2="1285.7" stroke="#333" stroke-width="1.6"/>
<text transform="translate(887.62,1293.8) scale(0.9600,1)" font-size="21.3" fill="#4D4D4D"><tspan font-family="NanumGothic" font-size="19.97" dx="-0.66" stroke="#4D4D4D" stroke-width="0.38">1</tspan><tspan dx="0.4">00</tspan></text>
<line x1="927.4" y1="1187.6" x2="934" y2="1187.6" stroke="#333" stroke-width="1.6"/>
<text transform="translate(887.62,1195.7) scale(0.9600,1)" font-size="21.3" fill="#4D4D4D">200</text>
<line x1="927.4" y1="1089.5" x2="934" y2="1089.5" stroke="#333" stroke-width="1.6"/>
<text transform="translate(887.62,1097.6) scale(0.9600,1)" font-size="21.3" fill="#4D4D4D">300</text>
<path d="M934,1398.6V1068.6H1190.5" fill="none" stroke="#1A1A1A" stroke-width="1.6"/>
<path d="M933.2,1398.6H1190.5V1067.8" fill="none" stroke="#000" stroke-width="2.5"/>
<line x1="980.8" y1="1398.6" x2="980.8" y2="1404.8" stroke="#333" stroke-width="1.7"/>
<text transform="translate(975.18,1425.1) scale(0.9600,1)" font-size="21.3" fill="#4D4D4D">0</text>
<line x1="1060.7" y1="1398.6" x2="1060.7" y2="1404.8" stroke="#333" stroke-width="1.7"/>
<text transform="translate(1054.97,1425.1) scale(0.9600,1)" font-size="21.3" fill="#4D4D4D">2</text>
<line x1="1141.2" y1="1398.6" x2="1141.2" y2="1404.8" stroke="#333" stroke-width="1.7"/>
<text transform="translate(1135.58,1425.1) scale(0.9600,1)" font-size="21.3" fill="#4D4D4D">3</text>
<path d="M1203.7,1398.6V1068.6H1460.35" fill="none" stroke="#1A1A1A" stroke-width="1.6"/>
<path d="M1202.9,1398.6H1460.35V1067.8" fill="none" stroke="#000" stroke-width="2.5"/>
<line x1="1250.6" y1="1398.6" x2="1250.6" y2="1404.8" stroke="#333" stroke-width="1.7"/>
<text transform="translate(1244.98,1425.1) scale(0.9600,1)" font-size="21.3" fill="#4D4D4D">0</text>
<line x1="1330.5" y1="1398.6" x2="1330.5" y2="1404.8" stroke="#333" stroke-width="1.7"/>
<text transform="translate(1324.77,1425.1) scale(0.9600,1)" font-size="21.3" fill="#4D4D4D">2</text>
<line x1="1411" y1="1398.6" x2="1411" y2="1404.8" stroke="#333" stroke-width="1.7"/>
<text transform="translate(1405.38,1425.1) scale(0.9600,1)" font-size="21.3" fill="#4D4D4D">3</text>
<polyline points="980.8,1374.5 1060.7,1374.5 1141.2,1367.8" fill="none" stroke="#FB6A4A" stroke-width="3.7" stroke-linejoin="round"/>
<rect x="978.5" y="1370.6" width="4.6" height="7.8" fill="#FB6A4A"/>
<rect x="1058.4" y="1370.6" width="4.6" height="7.8" fill="#FB6A4A"/>
<rect x="1138.9" y="1363.9" width="4.6" height="7.8" fill="#FB6A4A"/>
<polyline points="980.8,1383.9 1060.7,1383.6 1141.2,1383.9" fill="none" stroke="#CB181D" stroke-width="3.7" stroke-linejoin="round"/>
<rect x="978.5" y="1380" width="4.6" height="7.8" fill="#CB181D"/>
<rect x="1058.4" y="1379.7" width="4.6" height="7.8" fill="#CB181D"/>
<rect x="1138.9" y="1380" width="4.6" height="7.8" fill="#CB181D"/>
<polyline points="980.8,1340.9 1060.7,1370.1 1141.2,1377.9" fill="none" stroke="#67000D" stroke-width="3.7" stroke-linejoin="round"/>
<rect x="978.5" y="1337" width="4.6" height="7.8" fill="#67000D"/>
<rect x="1058.4" y="1366.2" width="4.6" height="7.8" fill="#67000D"/>
<rect x="1138.9" y="1374" width="4.6" height="7.8" fill="#67000D"/>
<polyline points="980.8,1288.2 1060.7,1286.6 1141.2,1266.4" fill="none" stroke="#74C476" stroke-width="3.7" stroke-linejoin="round"/>
<rect x="978.5" y="1284.3" width="4.6" height="7.8" fill="#74C476"/>
<rect x="1058.4" y="1282.7" width="4.6" height="7.8" fill="#74C476"/>
<rect x="1138.9" y="1262.5" width="4.6" height="7.8" fill="#74C476"/>
<polyline points="980.8,1267.1 1060.7,1207.7 1141.2,1083.5" fill="none" stroke="#238B45" stroke-width="3.7" stroke-linejoin="round"/>
<rect x="978.5" y="1263.2" width="4.6" height="7.8" fill="#238B45"/>
<rect x="1058.4" y="1203.8" width="4.6" height="7.8" fill="#238B45"/>
<rect x="1138.9" y="1079.6" width="4.6" height="7.8" fill="#238B45"/>
<polyline points="980.8,1375.5 1060.7,1369.5 1141.2,1205" fill="none" stroke="#00441B" stroke-width="3.7" stroke-linejoin="round"/>
<rect x="978.5" y="1371.6" width="4.6" height="7.8" fill="#00441B"/>
<rect x="1058.4" y="1365.6" width="4.6" height="7.8" fill="#00441B"/>
<rect x="1138.9" y="1201.1" width="4.6" height="7.8" fill="#00441B"/>
<polyline points="1250.6,1376.2 1330.5,1303 1411,1324.8" fill="none" stroke="#FB6A4A" stroke-width="3.7" stroke-linejoin="round"/>
<rect x="1248.3" y="1372.3" width="4.6" height="7.8" fill="#FB6A4A"/>
<rect x="1328.2" y="1299.1" width="4.6" height="7.8" fill="#FB6A4A"/>
<rect x="1408.7" y="1320.9" width="4.6" height="7.8" fill="#FB6A4A"/>
<polyline points="1250.6,1383.9 1330.5,1383.9 1411,1383.6" fill="none" stroke="#CB181D" stroke-width="3.7" stroke-linejoin="round"/>
<rect x="1248.3" y="1380" width="4.6" height="7.8" fill="#CB181D"/>
<rect x="1328.2" y="1380" width="4.6" height="7.8" fill="#CB181D"/>
<rect x="1408.7" y="1379.7" width="4.6" height="7.8" fill="#CB181D"/>
<polyline points="1250.6,1356.7 1330.5,1382.2 1411,1382.9" fill="none" stroke="#67000D" stroke-width="3.7" stroke-linejoin="round"/>
<rect x="1248.3" y="1352.8" width="4.6" height="7.8" fill="#67000D"/>
<rect x="1328.2" y="1378.3" width="4.6" height="7.8" fill="#67000D"/>
<rect x="1408.7" y="1379" width="4.6" height="7.8" fill="#67000D"/>
<polyline points="1250.6,1325.2 1330.5,1237.9 1411,1215.7" fill="none" stroke="#74C476" stroke-width="3.7" stroke-linejoin="round"/>
<rect x="1248.3" y="1321.3" width="4.6" height="7.8" fill="#74C476"/>
<rect x="1328.2" y="1234" width="4.6" height="7.8" fill="#74C476"/>
<rect x="1408.7" y="1211.8" width="4.6" height="7.8" fill="#74C476"/>
<polyline points="1250.6,1318.4 1330.5,1199.3 1411,1154.6" fill="none" stroke="#238B45" stroke-width="3.7" stroke-linejoin="round"/>
<rect x="1248.3" y="1314.5" width="4.6" height="7.8" fill="#238B45"/>
<rect x="1328.2" y="1195.4" width="4.6" height="7.8" fill="#238B45"/>
<rect x="1408.7" y="1150.7" width="4.6" height="7.8" fill="#238B45"/>
<polyline points="1250.6,1356.7 1330.5,1199.3 1411,1111.7" fill="none" stroke="#00441B" stroke-width="3.7" stroke-linejoin="round"/>
<rect x="1248.3" y="1352.8" width="4.6" height="7.8" fill="#00441B"/>
<rect x="1328.2" y="1195.4" width="4.6" height="7.8" fill="#00441B"/>
<rect x="1408.7" y="1107.8" width="4.6" height="7.8" fill="#00441B"/>
<text transform="translate(875.55,1305.83) rotate(-90)" font-size="25.4" fill="#000">Reads (cpm)</text>
<text transform="translate(1164.2,1453.8) scale(0.9807,1)" font-size="25.4" fill="#000">Stage</text>
<text x="1497.75" y="1116" font-size="25" fill="#000">Gene</text>
<rect x="1499.3" y="1133.8" width="36.7" height="36.9" fill="#F2F2F2"/>
<line x1="1501.9" y1="1152.25" x2="1533.4" y2="1152.25" stroke="#FB6A4A" stroke-width="3.7"/>
<rect x="1513.95" y="1148.25" width="4.8" height="8" fill="#FB6A4A"/>
<text transform="translate(1551,1159.85) scale(1.0050,1)" font-size="20.8" fill="#000">ADAMTS2</text>
<rect x="1499.3" y="1173.5" width="36.7" height="36.9" fill="#F2F2F2"/>
<line x1="1501.9" y1="1191.95" x2="1533.4" y2="1191.95" stroke="#CB181D" stroke-width="3.7"/>
<rect x="1513.95" y="1187.95" width="4.8" height="8" fill="#CB181D"/>
<text transform="translate(1549.33,1199.55) scale(1.0050,1)" font-size="20.8" fill="#000">MMP<tspan font-family="NanumGothic" font-size="19.5" dx="-0.64" stroke="#000" stroke-width="0.37">1</tspan><tspan dx="0.39">3</tspan></text>
<rect x="1499.3" y="1213.2" width="36.7" height="36.9" fill="#F2F2F2"/>
<line x1="1501.9" y1="1231.65" x2="1533.4" y2="1231.65" stroke="#67000D" stroke-width="3.7"/>
<rect x="1513.95" y="1227.65" width="4.8" height="8" fill="#67000D"/>
<text transform="translate(1549.33,1239.25) scale(1.0050,1)" font-size="20.8" fill="#000">MMP25</text>
<rect x="1499.3" y="1252.9" width="36.7" height="36.9" fill="#F2F2F2"/>
<line x1="1501.9" y1="1271.35" x2="1533.4" y2="1271.35" stroke="#74C476" stroke-width="3.7"/>
<rect x="1513.95" y="1267.35" width="4.8" height="8" fill="#74C476"/>
<text transform="translate(1550.58,1278.95) scale(1.0050,1)" font-size="20.8" fill="#000">TIMP<tspan font-family="NanumGothic" font-size="19.5" dx="-0.64" stroke="#000" stroke-width="0.37">1</tspan></text>
<rect x="1499.3" y="1292.6" width="36.7" height="36.9" fill="#F2F2F2"/>
<line x1="1501.9" y1="1311.05" x2="1533.4" y2="1311.05" stroke="#238B45" stroke-width="3.7"/>
<rect x="1513.95" y="1307.05" width="4.8" height="8" fill="#238B45"/>
<text transform="translate(1550.58,1318.65) scale(1.0050,1)" font-size="20.8" fill="#000">TIMP2</text>
<rect x="1499.3" y="1332.3" width="36.7" height="36.9" fill="#F2F2F2"/>
<line x1="1501.9" y1="1350.75" x2="1533.4" y2="1350.75" stroke="#00441B" stroke-width="3.7"/>
<rect x="1513.95" y="1346.75" width="4.8" height="8" fill="#00441B"/>
<text transform="translate(1550.16,1358.35) scale(1.0050,1)" font-size="20.8" fill="#000">SULF<tspan font-family="NanumGothic" font-size="19.5" dx="-0.64" stroke="#000" stroke-width="0.37">1</tspan></text>
</g>
</svg>
</body></html>
